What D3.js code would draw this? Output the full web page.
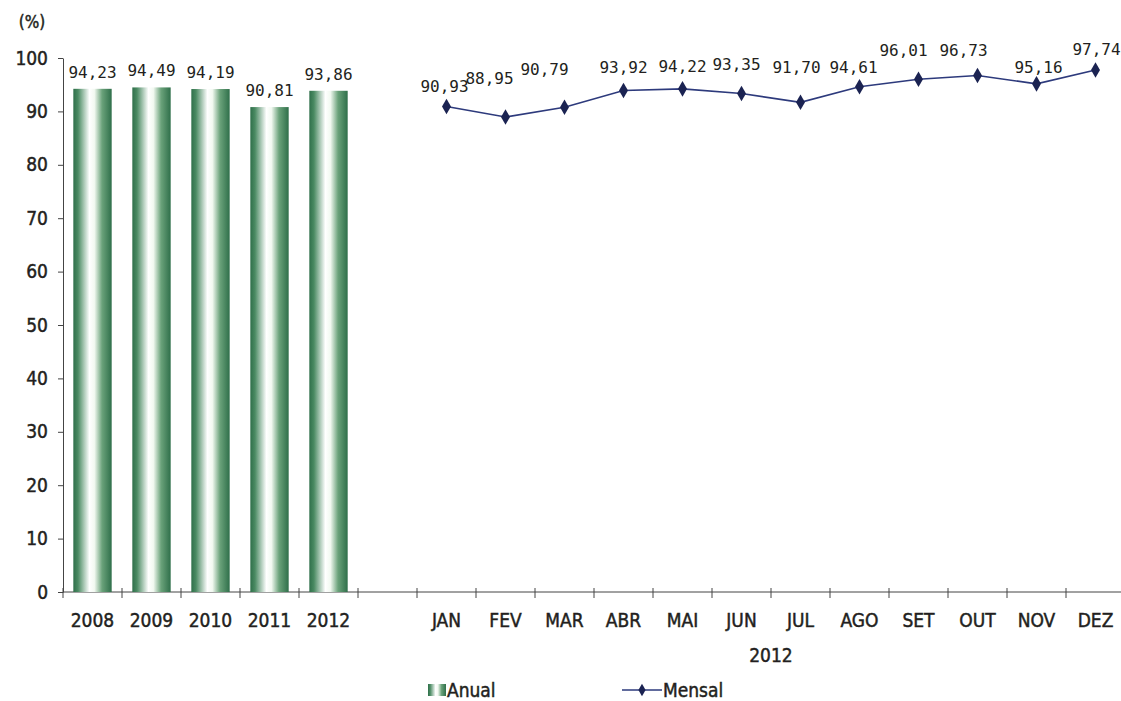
<!DOCTYPE html>
<html>
<head>
<meta charset="utf-8">
<script src="https://cdn.jsdelivr.net/npm/d3@7"></script>
<style>
body { margin: 0; background: #fff; }
</style>
</head>
<body>
<div id="chart"></div>
<script>
var w = 1121;
var h = 701;

// data
var anos = ["2008", "2009", "2010", "2011", "2012"];
var anual = [94.23, 94.49, 94.19, 90.81, 93.86];
var meses = ["JAN", "FEV", "MAR", "ABR", "MAI", "JUN", "JUL", "AGO", "SET", "OUT", "NOV", "DEZ"];
var mensal = [90.93, 88.95, 90.79, 93.92, 94.22, 93.35, 91.70, 94.61, 96.01, 96.73, 95.16, 97.74];
var yTicks = [0, 10, 20, 30, 40, 50, 60, 70, 80, 90, 100];

// label nudges for the monthly values (layout only)
var mensalDx = [-2, -16, -20, 0, 0, -5, -4, -6, -15, -14, 2, 1];
var mensalDy = [-20, -39, -38, -23, -23, -30, -35, -20, -29, -25, -17, -21];

var fmt = function(v) { return d3.format(".2f")(v).replace(".", ","); };

// one slot per year, an empty slot, then the months
var slots = anos.concat(["_gap"]).concat(meses);

var plotLeft = 63, plotBottom = 592, plotTop = 58;

var xScale = d3.scaleBand()
	.domain(slots)
	.range([plotLeft, plotLeft + slots.length * 59])
	.paddingInner(0.35)
	.paddingOuter(0.175);

var yScale = d3.scaleLinear()
	.domain([0, 100])
	.range([plotBottom, plotTop]);

var svg = d3.select("#chart")
	.append("svg")
	.attr("width", w)
	.attr("height", h);

var defs = svg.append("defs");
var grad = defs.append("linearGradient")
	.attr("id", "barGrad")
	.attr("x1", "0%").attr("x2", "100%")
	.attr("y1", "0%").attr("y2", "0%");
[[0, "#2f6f4a"], [0.12, "#4a8a62"], [0.42, "#ffffff"], [0.55, "#f2f9f1"], [0.75, "#6aa27a"], [1, "#2f6f4a"]]
	.forEach(function(s) {
		grad.append("stop").attr("offset", s[0]).attr("stop-color", s[1]);
	});

var axisFont = "'DejaVu Sans Condensed', 'DejaVu Sans', sans-serif";
var labelFont = "'DejaVu Sans Mono', monospace";
var ink = "#231f20";

// slightly heavier than regular, like the reference
function heavy(sel, size) {
	sel.attr("font-family", axisFont)
		.attr("font-size", size)
		.attr("fill", ink)
		.attr("stroke", ink)
		.attr("stroke-width", 0.45);
}

//Y axis
var yAxis = svg.append("g")
	.attr("transform", "translate(" + plotLeft + ",0)")
	.call(d3.axisLeft(yScale).tickValues(yTicks).tickSize(5).tickSizeOuter(0).tickPadding(10));
yAxis.select(".domain").attr("stroke", "#444");
yAxis.selectAll(".tick line").attr("stroke", "#444");
yAxis.selectAll("text").call(heavy, "19px");

svg.append("text")
	.attr("x", 32)
	.attr("y", 28)
	.attr("text-anchor", "middle")
	.call(heavy, "17px")
	.text("(%)");

//X axis line + boundary ticks
svg.append("line")
	.attr("x1", plotLeft).attr("x2", w)
	.attr("y1", plotBottom).attr("y2", plotBottom)
	.attr("stroke", "#444");

svg.selectAll(".slotTick")
	.data(d3.range(slots.length + 1))
	.enter()
	.append("line")
	.attr("class", "slotTick")
	.attr("x1", function(i) { return plotLeft + i * xScale.step(); })
	.attr("x2", function(i) { return plotLeft + i * xScale.step(); })
	.attr("y1", plotBottom - 4)
	.attr("y2", plotBottom + 6)
	.attr("stroke", "#444");

var xAxis = svg.append("g")
	.attr("transform", "translate(0," + plotBottom + ")")
	.call(d3.axisBottom(xScale).tickSize(0).tickPadding(22)
		.tickFormat(function(d) { return d === "_gap" ? "" : d; }));
xAxis.select(".domain").remove();
xAxis.selectAll("text").call(heavy, "19px");

svg.append("text")
	.attr("x", (xScale("JAN") + xScale("DEZ") + xScale.bandwidth()) / 2)
	.attr("y", 662)
	.attr("text-anchor", "middle")
	.call(heavy, "19px")
	.text("2012");

//Create bars
svg.selectAll("rect.bar")
	.data(anual)
	.enter()
	.append("rect")
	.attr("class", "bar")
	.attr("x", function(d, i) { return xScale(anos[i]); })
	.attr("y", function(d) { return yScale(d); })
	.attr("width", xScale.bandwidth())
	.attr("height", function(d) { return plotBottom - yScale(d); })
	.attr("fill", "url(#barGrad)");

svg.selectAll("text.barLabel")
	.data(anual)
	.enter()
	.append("text")
	.attr("class", "barLabel")
	.attr("x", function(d, i) { return xScale(anos[i]) + xScale.bandwidth() / 2; })
	.attr("y", function(d) { return yScale(d) - 11; })
	.attr("text-anchor", "middle")
	.attr("font-family", labelFont)
	.attr("font-size", "16px")
	.attr("fill", ink)
	.text(fmt);

//Create line
var cx = function(d, i) { return xScale(meses[i]) + xScale.bandwidth() / 2; };
var line = d3.line()
	.x(cx)
	.y(function(d) { return yScale(d); });

svg.append("path")
	.datum(mensal)
	.attr("d", line)
	.attr("fill", "none")
	.attr("stroke", "#2d3a7c")
	.attr("stroke-width", 1.6);

svg.selectAll("path.marker")
	.data(mensal)
	.enter()
	.append("path")
	.attr("class", "marker")
	.attr("d", d3.symbol().type(d3.symbolDiamond).size(70))
	.attr("transform", function(d, i) { return "translate(" + cx(d, i) + "," + yScale(d) + ")"; })
	.attr("fill", "#1b2352");

svg.selectAll("text.lineLabel")
	.data(mensal)
	.enter()
	.append("text")
	.attr("class", "lineLabel")
	.attr("x", function(d, i) { return cx(d, i) + mensalDx[i]; })
	.attr("y", function(d, i) { return yScale(d) + mensalDy[i] + 6; })
	.attr("text-anchor", "middle")
	.attr("font-family", labelFont)
	.attr("font-size", "16px")
	.attr("fill", ink)
	.text(fmt);

//Legend
var lg = svg.append("g").attr("transform", "translate(428,697)");
lg.append("rect")
	.attr("x", 0).attr("y", -13)
	.attr("width", 18).attr("height", 12)
	.attr("fill", "url(#barGrad)");
lg.append("text")
	.attr("x", 19).attr("y", 0)
	.call(heavy, "19px")
	.text("Anual");
lg.append("line")
	.attr("x1", 194).attr("x2", 234)
	.attr("y1", -7).attr("y2", -7)
	.attr("stroke", "#2d3a7c")
	.attr("stroke-width", 1.6);
lg.append("path")
	.attr("d", d3.symbol().type(d3.symbolDiamond).size(45))
	.attr("transform", "translate(214,-7)")
	.attr("fill", "#1b2352");
lg.append("text")
	.attr("x", 235).attr("y", 0)
	.call(heavy, "19px")
	.text("Mensal");
</script>
</body>
</html>
